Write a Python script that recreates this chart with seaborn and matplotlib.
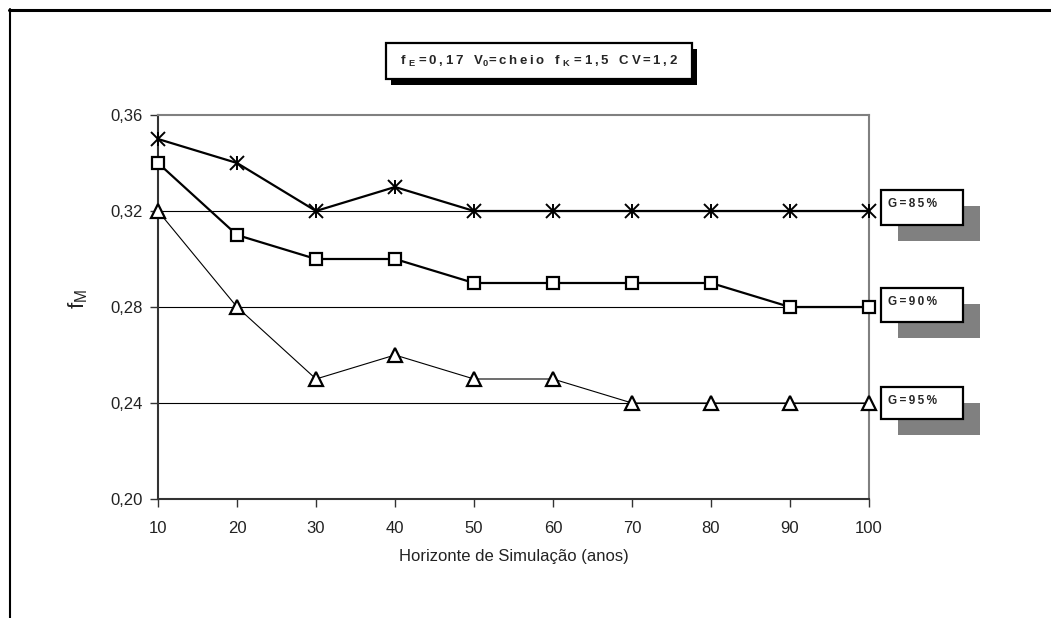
import matplotlib
matplotlib.use("Agg")
import matplotlib.pyplot as plt
import seaborn as sns
import pandas as pd
from matplotlib.patches import Rectangle
from matplotlib.lines import Line2D

# ---- data ----
horizon = [10, 20, 30, 40, 50, 60, 70, 80, 90, 100]
g85 = [0.35, 0.34, 0.32, 0.33, 0.32, 0.32, 0.32, 0.32, 0.32, 0.32]
g90 = [0.34, 0.31, 0.30, 0.30, 0.29, 0.29, 0.29, 0.29, 0.28, 0.28]
g95 = [0.32, 0.28, 0.25, 0.26, 0.25, 0.25, 0.24, 0.24, 0.24, 0.24]
series_labels = ["G=85%", "G=90%", "G=95%"]
yticks = [0.20, 0.24, 0.28, 0.32, 0.36]
ytick_labels = ["0,20", "0,24", "0,28", "0,32", "0,36"]

sns.set_theme(style="white")
plt.rcParams['font.family'] = ['Liberation Sans', 'DejaVu Sans']
plt.rcParams['mathtext.fontset'] = 'custom'
plt.rcParams['mathtext.rm'] = 'Liberation Sans'
plt.rcParams['mathtext.bf'] = 'Liberation Sans:bold'

W, H = 1051, 618
fig = plt.figure(figsize=(W / 100, H / 100), dpi=100)
fig.patch.set_facecolor("white")

def fx(px):
    return px / W

def fy(py):
    return 1 - py / H

ax = fig.add_axes([fx(158), fy(499), fx(869) - fx(158), fy(115) - fy(499)])

df = pd.DataFrame({"x": horizon * 3, "y": g85 + g90 + g95,
                   "s": [series_labels[0]] * 10 + [series_labels[1]] * 10 + [series_labels[2]] * 10})

d85 = df[df.s == series_labels[0]]
d90 = df[df.s == series_labels[1]]
d95 = df[df.s == series_labels[2]]

sns.lineplot(data=d85, x="x", y="y", ax=ax, color="black", lw=1.6, marker="x",
             markersize=9.5, markeredgewidth=1.4, markeredgecolor="black",
             legend=False, zorder=5, clip_on=False)
ax.plot(d85.x, d85.y, ls="none", marker="|", markersize=10.5, markeredgewidth=1.4,
        color="black", zorder=5, clip_on=False)
sns.lineplot(data=d90, x="x", y="y", ax=ax, color="black", lw=1.6, marker="s",
             markersize=9, markerfacecolor="white", markeredgecolor="black",
             markeredgewidth=1.6, legend=False, zorder=5, clip_on=False)
sns.lineplot(data=d95, x="x", y="y", ax=ax, color="black", lw=0.8, marker="^",
             markersize=10, markerfacecolor="white", markeredgecolor="black",
             markeredgewidth=1.6, legend=False, zorder=5, clip_on=False)

ax.set_xlim(10, 100)
ax.set_ylim(0.20, 0.36)
ax.set_xticks(horizon)
ax.set_xticklabels([str(h) for h in horizon], fontsize=12)
ax.set_yticks(yticks)
ax.set_yticklabels(ytick_labels, fontsize=12)
for yv in yticks[1:-1]:
    ax.axhline(yv, color="black", lw=0.8, zorder=1)

ax.tick_params(axis="both", which="both", direction="out", length=6, width=1,
               color="#333333", bottom=True, left=True, labelcolor="#222222")
ax.tick_params(axis="x", pad=10)
ax.tick_params(axis="y", pad=5)
for side in ["left", "bottom"]:
    ax.spines[side].set_color("#333333")
    ax.spines[side].set_linewidth(1.5)
for side in ["top", "right"]:
    ax.spines[side].set_color("#808080")
    ax.spines[side].set_linewidth(1.5)

ax.set_xlabel("Horizonte de Simulação (anos)", fontsize=12, color="#222222")
ax.xaxis.set_label_coords(0.5, -0.13)
ax.set_ylabel("f$_\\mathregular{M}$", fontsize=16, color="#222222")
ax.yaxis.set_label_coords(-0.096, 0.52)

# outer frame
fig.add_artist(Line2D([fx(9), 1], [fy(10), fy(10)], color="black", lw=2.2, transform=fig.transFigure))
fig.add_artist(Line2D([fx(10), fx(10)], [fy(9), 0], color="black", lw=1.5, transform=fig.transFigure))

def box(x0, y0, x1, y1, shadow_dx, shadow_dy, shadow_color):
    fig.add_artist(Rectangle((fx(x0 + shadow_dx), fy(y1 + shadow_dy)), fx(x1 - x0), fy(y0) - fy(y1),
                             transform=fig.transFigure, facecolor=shadow_color, edgecolor="none", zorder=10))
    fig.add_artist(Rectangle((fx(x0), fy(y1)), fx(x1 - x0), fy(y0) - fy(y1),
                             transform=fig.transFigure, facecolor="white", edgecolor="black", lw=1.6, zorder=11))

TS = "\u2009"

def spaced(s):
    return TS.join(s)

# title box
box(386, 43, 692, 79, 5, 6, "black")
title = (spaced("f") + " $_\\mathbf{E}$ " + spaced("=0,17") + "   " +
         spaced("V") + "$_\\mathbf{0}$" + spaced("=cheio") + "   " +
         spaced("f") + " $_\\mathbf{K}$ " + spaced("=1,5") + "   " +
         spaced("CV=1,2"))
fig.text(fx(539), fy(61), title, ha="center", va="center", fontsize=9.5,
         fontweight="bold", zorder=12)

# series label boxes
label_boxes = [(190, 225), (288, 322), (387, 419)]
for lab, (y0, y1) in zip(series_labels, label_boxes):
    box(881, y0, 963, y1, 17, 16, "#808080")
    fig.text(fx(888), fy(y0 + 8), spaced(lab), ha="left", va="top", fontsize=8.5,
             fontweight="bold", zorder=12)

fig.savefig("out.png", dpi=100, facecolor="white")
